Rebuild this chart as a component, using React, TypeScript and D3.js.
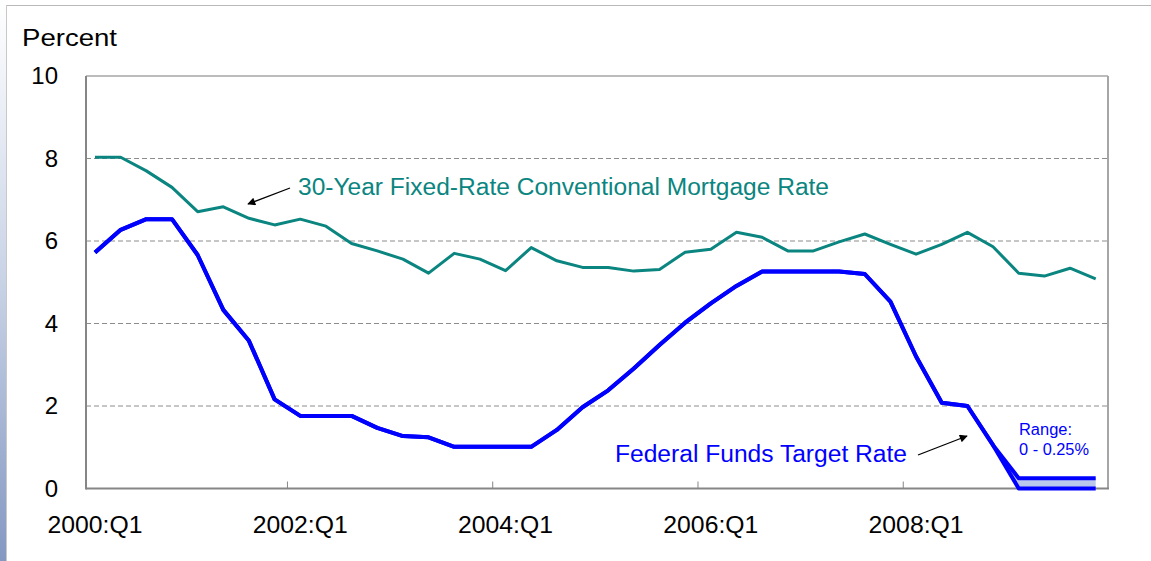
import React, { useEffect } from "react";
import * as d3 from "d3";

const years = [2000, 2001, 2002, 2003, 2004, 2005, 2006, 2007, 2008, 2009];
const quarters = ["Q1", "Q2", "Q3", "Q4"];
const categories: string[] = years.flatMap((y) => quarters.map((q) => `${y}:${q}`));

const xTickLabels = ["2000:Q1", "2002:Q1", "2004:Q1", "2006:Q1", "2008:Q1"];
const yTicks = [0, 2, 4, 6, 8, 10];

const mortgageRate = [
  8.03, 8.03, 7.7, 7.3, 6.71, 6.83, 6.55, 6.39, 6.53, 6.36,
  5.94, 5.76, 5.56, 5.22, 5.7, 5.56, 5.28, 5.84, 5.52, 5.36,
  5.36, 5.27, 5.31, 5.73, 5.8, 6.21, 6.09, 5.76, 5.76, 5.98,
  6.17, 5.92, 5.68, 5.92, 6.21, 5.86, 5.22, 5.15, 5.34, 5.08,
];

const fedFundsUpper = [
  5.72, 6.27, 6.53, 6.53, 5.66, 4.33, 3.58, 2.16, 1.76, 1.76,
  1.76, 1.47, 1.27, 1.24, 1.01, 1.01, 1.01, 1.01, 1.42, 1.97,
  2.38, 2.91, 3.48, 4.02, 4.49, 4.91, 5.26, 5.26, 5.26, 5.26,
  5.2, 4.53, 3.2, 2.08, 2.0, 1.05, 0.25, 0.25, 0.25, 0.25,
];

const fedFundsLower = [
  5.72, 6.27, 6.53, 6.53, 5.66, 4.33, 3.58, 2.16, 1.76, 1.76,
  1.76, 1.47, 1.27, 1.24, 1.01, 1.01, 1.01, 1.01, 1.42, 1.97,
  2.38, 2.91, 3.48, 4.02, 4.49, 4.91, 5.26, 5.26, 5.26, 5.26,
  5.2, 4.53, 3.2, 2.08, 2.0, 1.05, 0.0, 0.0, 0.0, 0.0,
];

const W = 1151;
const H = 561;
const FONT = "'Liberation Sans', Arial, sans-serif";
const TEAL = "#0a8580";
const BLUE = "#0000ff";

export default function App() {
  useEffect(() => {
    document.body.style.margin = "0";
  }, []);

  const left = 86;
  const right = 1108;
  const top = 76;
  const bottom = 488.5;

  const x = d3.scalePoint<string>().domain(categories).range([95, 1095.7]);
  const y = d3.scaleLinear().domain([0, 10]).range([bottom, top]);

  const line = d3
    .line<number>()
    .x((_, i) => x(categories[i]) as number)
    .y((d) => y(d));

  const rangeStart = 35;
  const rangeIdx = d3.range(rangeStart, categories.length);
  const area = d3
    .area<number>()
    .x((i) => x(categories[i]) as number)
    .y0((i) => y(fedFundsLower[i]))
    .y1((i) => y(fedFundsUpper[i]));

  const tickPositions = [8, 16, 24, 32].map(
    (i) => ((x(categories[i - 1]) as number) + (x(categories[i]) as number)) / 2
  );

  return (
    <svg width={W} height={H} style={{ position: "absolute", left: 0, top: 0, display: "block" }}>
      <defs>
        <linearGradient id="strip" x1="0" y1="0" x2="0" y2="1">
          <stop offset="0" stopColor="#ffffff" />
          <stop offset="0.5" stopColor="#c9d3e6" />
          <stop offset="1" stopColor="#8598c2" />
        </linearGradient>
        <linearGradient id="band" x1="0" y1="0" x2="0" y2="1">
          <stop offset="0" stopColor="#dde4f6" />
          <stop offset="1" stopColor="#b6c4ea" />
        </linearGradient>
        <marker id="arrow" viewBox="0 0 10 10" refX="9" refY="5" markerWidth="11" markerHeight="8" markerUnits="userSpaceOnUse" orient="auto">
          <path d="M0,0 L10,5 L0,10 z" fill="#000" />
        </marker>
      </defs>
      <rect x={0} y={0} width={W} height={H} fill="#ffffff" />
      <rect x={0} y={0} width={6} height={H} fill="url(#strip)" />
      <line x1={6} y1={5.5} x2={W} y2={5.5} stroke="#b8b8b8" strokeWidth={1} />
      <line x1={6.5} y1={5} x2={6.5} y2={H} stroke="#c8c8c8" strokeWidth={1} />

      {/* gridlines */}
      {yTicks
        .filter((t) => t > 0 && t < 10)
        .map((t) => (
          <line key={t} x1={left} x2={right} y1={y(t)} y2={y(t)} stroke="#8c8c8c" strokeWidth={1} strokeDasharray="5,3" />
        ))}

      {/* frame */}
      <line x1={left} x2={right} y1={top} y2={top} stroke="#a6a6a6" strokeWidth={1.5} />
      <line x1={right} x2={right} y1={top} y2={bottom} stroke="#a6a6a6" strokeWidth={2} />
      <line x1={left} x2={left} y1={top} y2={bottom + 1} stroke="#868686" strokeWidth={2} />
      <line x1={left} x2={right + 1} y1={bottom} y2={bottom} stroke="#868686" strokeWidth={2} />
      {tickPositions.map((tx, i) => (
        <line key={i} x1={tx} x2={tx} y1={bottom} y2={bottom - 7} stroke="#868686" strokeWidth={1} />
      ))}

      {/* y labels */}
      {yTicks.map((t) => (
        <text key={t} x={58} y={y(t)} dy="0.35em" textAnchor="end" fontFamily={FONT} fontSize={24} fill="#000">
          {t}
        </text>
      ))}
      <text x={22} y={46} fontFamily={FONT} fontSize={24} fill="#000" textLength={95} lengthAdjust="spacingAndGlyphs">
        Percent
      </text>

      {/* x labels */}
      {xTickLabels.map((l) => (
        <text key={l} x={x(l) as number} y={533} textAnchor="middle" fontFamily={FONT} fontSize={24} fill="#000" textLength={95} lengthAdjust="spacingAndGlyphs">
          {l}
        </text>
      ))}

      {/* series */}
      <path d={line(mortgageRate) ?? ""} fill="none" stroke={TEAL} strokeWidth={3} strokeLinejoin="round" />
      <path d={area(rangeIdx) ?? ""} fill="url(#band)" stroke="none" />
      <path d={line(fedFundsLower) ?? ""} fill="none" stroke={BLUE} strokeWidth={4} strokeLinejoin="round" />
      <path d={line(fedFundsUpper) ?? ""} fill="none" stroke={BLUE} strokeWidth={4} strokeLinejoin="round" />

      {/* annotations */}
      <text x={298} y={195} fontFamily={FONT} fontSize={23} fill={TEAL} textLength={531} lengthAdjust="spacingAndGlyphs">
        30-Year Fixed-Rate Conventional Mortgage Rate
      </text>
      <line x1={290} y1={188} x2={248} y2={204} stroke="#000" strokeWidth={1.3} markerEnd="url(#arrow)" />

      <text x={615} y={462} fontFamily={FONT} fontSize={23} fill={BLUE} textLength={292} lengthAdjust="spacingAndGlyphs">
        Federal Funds Target Rate
      </text>
      <line x1={918} y1={455} x2={967} y2={436} stroke="#000" strokeWidth={1.3} markerEnd="url(#arrow)" />

      <text x={1019} y={435} fontFamily={FONT} fontSize={16} fill={BLUE} textLength={53} lengthAdjust="spacingAndGlyphs">
        Range:
      </text>
      <text x={1019} y={455} fontFamily={FONT} fontSize={16} fill={BLUE} textLength={70} lengthAdjust="spacingAndGlyphs">
        0 - 0.25%
      </text>
    </svg>
  );
}
